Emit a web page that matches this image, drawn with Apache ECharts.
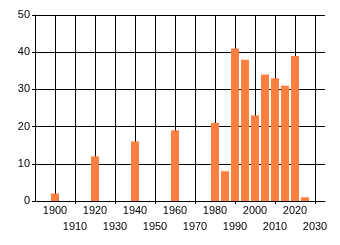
<!DOCTYPE html>
<html><head><meta charset="utf-8">
<script src="https://cdn.jsdelivr.net/npm/echarts@6/dist/echarts.min.js"></script>
<style>html,body{margin:0;padding:0;background:#fff}#c{width:340px;height:245px}</style>
</head><body><div id="c"></div>
<script>
const years = [1900, 1920, 1940, 1960, 1980, 1985, 1990, 1995, 2000, 2005, 2010, 2015, 2020, 2025];
const values = [2, 12, 16, 19, 21, 8, 41, 38, 23, 34, 33, 31, 39, 1];
const labelsRow1 = [1900, 1920, 1940, 1960, 1980, 2000, 2020];
const labelsRow2 = [1910, 1930, 1950, 1970, 1990, 2010, 2030];
const yTicks = [0, 10, 20, 30, 40, 50];

const chart = echarts.init(document.getElementById('c'));
const font = {fontFamily: 'Liberation Sans, Arial, sans-serif', fontSize: 11, color: '#000'};
chart.setOption({
  animation: false,
  grid: {left: 35, right: 15, top: 15, bottom: 44},
  xAxis: [{
    type: 'value', min: 1890, max: 2035, interval: 10,
    axisLine: {show: true, lineStyle: {color: '#000', width: 1}},
    axisTick: {show: false},
    splitLine: {show: true, showMinLine: false, showMaxLine: false, lineStyle: {color: '#000', width: 1}},
    axisLabel: Object.assign({margin: 4, customValues: labelsRow1, formatter: v => String(v)}, font)
  }, {
    type: 'value', min: 1890, max: 2035, position: 'bottom',
    axisLine: {show: false},
    splitLine: {show: false},
    axisTick: {show: true, length: 3, customValues: labelsRow2, lineStyle: {color: '#000'}},
    axisLabel: Object.assign({margin: 20, customValues: labelsRow2, formatter: v => String(v)}, font)
  }],
  yAxis: {
    type: 'value', min: 0, max: 50, interval: 10,
    axisLine: {show: true, lineStyle: {color: '#000', width: 1}},
    axisTick: {show: true, length: 3, lineStyle: {color: '#000'}},
    splitLine: {show: true, lineStyle: {color: '#000', width: 1}},
    axisLabel: Object.assign({margin: 5, customValues: yTicks}, font)
  },
  series: [{
    type: 'bar', xAxisIndex: 0, barWidth: 8,
    itemStyle: {color: '#FF7F40'},
    data: years.map((y, i) => [y, values[i]])
  }]
});
</script></body></html>
